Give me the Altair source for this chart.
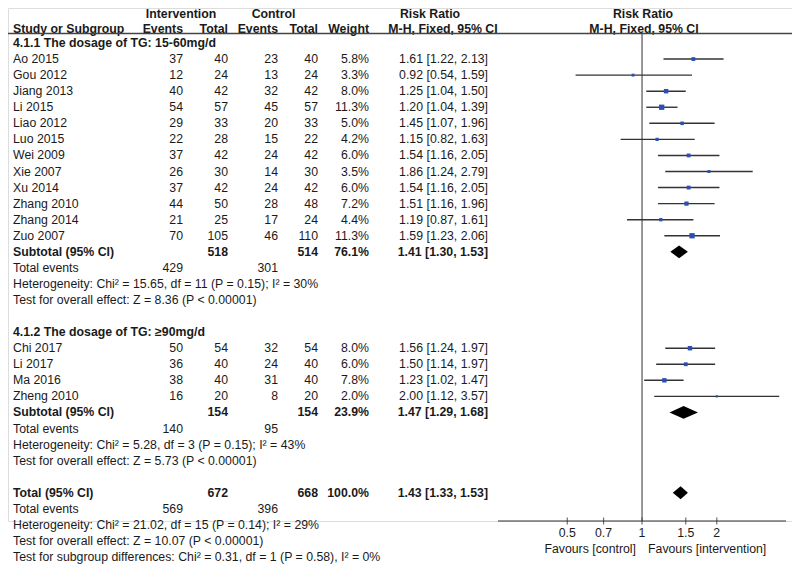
import altair as alt
import pandas as pd

FONT = "Liberation Sans"
TXT = "#1a1a1a"
FS = 12.3

# ---------------- data ----------------
g1_label = "4.1.1 The dosage of TG: 15-60mg/d"
g1_studies = ["Ao 2015", "Gou 2012", "Jiang 2013", "Li 2015", "Liao 2012", "Luo 2015",
              "Wei 2009", "Xie 2007", "Xu 2014", "Zhang 2010", "Zhang 2014", "Zuo 2007"]
g1_int_events = [37, 12, 40, 54, 29, 22, 37, 26, 37, 44, 21, 70]
g1_int_total = [40, 24, 42, 57, 33, 28, 42, 30, 42, 50, 25, 105]
g1_ctl_events = [23, 13, 32, 45, 20, 15, 24, 14, 24, 28, 17, 46]
g1_ctl_total = [40, 24, 42, 57, 33, 22, 42, 30, 42, 48, 24, 110]
g1_weight = [5.8, 3.3, 8.0, 11.3, 5.0, 4.2, 6.0, 3.5, 6.0, 7.2, 4.4, 11.3]
g1_rr = [1.61, 0.92, 1.25, 1.20, 1.45, 1.15, 1.54, 1.86, 1.54, 1.51, 1.19, 1.59]
g1_lo = [1.22, 0.54, 1.04, 1.04, 1.07, 0.82, 1.16, 1.24, 1.16, 1.16, 0.87, 1.23]
g1_hi = [2.13, 1.59, 1.50, 1.39, 1.96, 1.63, 2.05, 2.79, 2.05, 1.96, 1.61, 2.06]
g1_sub = {"it": 518, "ct": 514, "w": 76.1, "rr": 1.41, "lo": 1.30, "hi": 1.53, "ie": 429, "ce": 301}
g1_het = "Heterogeneity: Chi² = 15.65, df = 11 (P = 0.15); I² = 30%"
g1_test = "Test for overall effect: Z = 8.36 (P < 0.00001)"

g2_label = "4.1.2 The dosage of TG: ≥90mg/d"
g2_studies = ["Chi 2017", "Li 2017", "Ma 2016", "Zheng 2010"]
g2_int_events = [50, 36, 38, 16]
g2_int_total = [54, 40, 40, 20]
g2_ctl_events = [32, 24, 31, 8]
g2_ctl_total = [54, 40, 40, 20]
g2_weight = [8.0, 6.0, 7.8, 2.0]
g2_rr = [1.56, 1.50, 1.23, 2.00]
g2_lo = [1.24, 1.14, 1.02, 1.12]
g2_hi = [1.97, 1.97, 1.47, 3.57]
g2_sub = {"it": 154, "ct": 154, "w": 23.9, "rr": 1.47, "lo": 1.29, "hi": 1.68, "ie": 140, "ce": 95}
g2_het = "Heterogeneity: Chi² = 5.28, df = 3 (P = 0.15); I² = 43%"
g2_test = "Test for overall effect: Z = 5.73 (P < 0.00001)"

tot = {"it": 672, "ct": 668, "w": 100.0, "rr": 1.43, "lo": 1.33, "hi": 1.53, "ie": 569, "ce": 396}
tot_het = "Heterogeneity: Chi² = 21.02, df = 15 (P = 0.14); I² = 29%"
tot_test = "Test for overall effect: Z = 10.07 (P < 0.00001)"
sub_test = "Test for subgroup differences: Chi² = 0.31, df = 1 (P = 0.58), I² = 0%"

axis_ticks = [0.5, 0.7, 1, 1.5, 2]
axis_extent = [0.263, 3.8]
null_effect = [1]
fav_left = "Favours [control]"
fav_right = "Favours [intervention]"

# ---------------- build tables ----------------
text_rows = []
forest_rows = []
diamond_rows = []


def fmt_rr(r, l, h):
    return f"{r:.2f} [{l:.2f}, {h:.2f}]"


def add(row, label="", ie="", it="", ce="", ct="", w="", rr="", bold=False):
    text_rows.append(dict(row=row, label=label, ie=str(ie), it=str(it), ce=str(ce),
                          ct=str(ct), w=w, rr=rr, bold=bold))


r = 0
for (lab, st, ie, it, ce, ct, w, rr, lo, hi, sub, het, test) in [
    (g1_label, g1_studies, g1_int_events, g1_int_total, g1_ctl_events, g1_ctl_total,
     g1_weight, g1_rr, g1_lo, g1_hi, g1_sub, g1_het, g1_test),
    (g2_label, g2_studies, g2_int_events, g2_int_total, g2_ctl_events, g2_ctl_total,
     g2_weight, g2_rr, g2_lo, g2_hi, g2_sub, g2_het, g2_test),
]:
    add(r, label=lab, bold=True)
    r += 1
    for i in range(len(st)):
        add(r, st[i], ie[i], it[i], ce[i], ct[i], f"{w[i]:.1f}%", fmt_rr(rr[i], lo[i], hi[i]))
        forest_rows.append(dict(row=r, rr=rr[i], lo=lo[i], hi=hi[i], weight=w[i]))
        r += 1
    add(r, "Subtotal (95% CI)", "", sub["it"], "", sub["ct"], f"{sub['w']:.1f}%",
        fmt_rr(sub["rr"], sub["lo"], sub["hi"]), bold=True)
    diamond_rows.append((r, sub["lo"], sub["rr"], sub["hi"]))
    r += 1
    add(r, "Total events", sub["ie"], "", sub["ce"])
    r += 1
    add(r, het)
    r += 1
    add(r, test)
    r += 2

add(r, "Total (95% CI)", "", tot["it"], "", tot["ct"], f"{tot['w']:.1f}%",
    fmt_rr(tot["rr"], tot["lo"], tot["hi"]), bold=True)
diamond_rows.append((r, tot["lo"], tot["rr"], tot["hi"]))
r += 1
add(r, "Total events", tot["ie"], "", tot["ce"])
r += 1
add(r, tot_het)
r += 1
add(r, tot_test)
r += 1
add(r, sub_test)
last_row = r

text_df = pd.DataFrame(text_rows)
forest_df = pd.DataFrame(forest_rows)

dia = []
for k, (row, lo, est, hi) in enumerate(diamond_rows):
    dia.append(dict(d=k, x=lo, y=row, y2=row))
    dia.append(dict(d=k, x=est, y=row - 0.4, y2=row + 0.4))
    dia.append(dict(d=k, x=hi, y=row, y2=row))
dia_df = pd.DataFrame(dia)

# ---------------- layout constants (chart pixels) ----------------
ROW0_Y, ROWN_Y = 35, 549
AXIS_Y = 513
LABEL_Y = 524.5
FAV_Y = 541
UNDERLINE_Y = 25.5

yscale = alt.Scale(domain=[0, last_row], range=[ROW0_Y, ROWN_Y], nice=False, zero=False)
xscale = alt.Scale(type="log", domain=axis_extent, range=[490, 778], nice=False)


def Y(field="row"):
    return alt.Y(f"{field}:Q", scale=yscale, axis=None)


def X(field):
    return alt.X(f"{field}:Q", scale=xscale, axis=None)


layers = []

# text columns: (field, x, align)
cols = [("label", 5, "left"), ("ie", 175, "right"), ("it", 220, "right"),
        ("ce", 270, "right"), ("ct", 310, "right"), ("w", 361, "right"),
        ("rr", 480, "right")]
base_text = alt.Chart(text_df)
for field, xpos, align in cols:
    for b in (False, True):
        layers.append(
            base_text.transform_filter(alt.datum.bold == b)
            .mark_text(align=align, baseline="middle", font=FONT, fontSize=FS,
                       fontWeight="bold" if b else "normal", color=TXT)
            .encode(x=alt.value(xpos), y=Y(), text=f"{field}:N")
        )

# column headers
hdr = pd.DataFrame({
    "t": ["Intervention", "Control", "Risk Ratio", "Risk Ratio",
          "Study or Subgroup", "Events", "Total", "Events", "Total", "Weight",
          "M-H, Fixed, 95% CI", "M-H, Fixed, 95% CI"],
    "k": list(range(12)),
})
hdr_pos = [(173, 0, "center"), (265.5, 0, "center"), (422, 0, "center"), (635, 0, "center"),
           (5, 14.5, "left"), (175, 14.5, "right"), (220, 14.5, "right"), (270, 14.5, "right"),
           (310, 14.5, "right"), (361, 14.5, "right"), (435, 14.5, "center"), (636, 14.5, "center")]
for k, (hx, hy, ha) in enumerate(hdr_pos):
    layers.append(
        alt.Chart(hdr).transform_filter(alt.datum.k == k)
        .mark_text(align=ha, baseline="top", font=FONT, fontSize=FS, fontWeight="bold", color=TXT)
        .encode(x=alt.value(hx), y=alt.value(hy), text="t:N")
    )

# header underline
layers.append(
    alt.Chart(pd.DataFrame({"k": [0]})).mark_rule(color="#444", strokeWidth=1.3)
    .encode(x=alt.value(0), x2=alt.value(784), y=alt.value(UNDERLINE_Y))
)

# null-effect vertical line
layers.append(
    alt.Chart(pd.DataFrame({"v": null_effect})).mark_rule(color="#444", strokeWidth=1.1)
    .encode(x=X("v"), y=alt.value(UNDERLINE_Y), y2=alt.value(AXIS_Y))
)

# axis line
layers.append(
    alt.Chart(pd.DataFrame({"a": [axis_extent[0]], "b": [axis_extent[1]]}))
    .mark_rule(color="#333", strokeWidth=1.2)
    .encode(x=X("a"), x2="b:Q", y=alt.value(AXIS_Y))
)

# ticks crossing the axis line
tick_df = pd.DataFrame({"v": axis_ticks, "lab": [f"{t:g}" for t in axis_ticks]})
layers.append(
    alt.Chart(tick_df).mark_tick(color="#333", size=7, thickness=1.2)
    .encode(x=X("v"), y=alt.value(AXIS_Y))
)
layers.append(
    alt.Chart(tick_df).mark_text(baseline="middle", align="center", font=FONT, fontSize=FS, color=TXT)
    .encode(x=X("v"), y=alt.value(LABEL_Y), text="lab:N")
)

# CI lines
layers.append(
    alt.Chart(forest_df).mark_rule(color="#333", strokeWidth=1.4)
    .encode(x=X("lo"), x2="hi:Q", y=Y())
)

# study squares
layers.append(
    alt.Chart(forest_df).mark_square(color="#2b4fb3", opacity=1)
    .encode(
        x=X("rr"),
        y=Y(),
        size=alt.Size("weight:Q", scale=alt.Scale(domain=[0, 11.3], range=[0, 28], zero=True), legend=None),
    )
)

# diamonds
layers.append(
    alt.Chart(dia_df).mark_area(color="black", orient="vertical", opacity=1)
    .encode(x=X("x"), y=Y("y"), y2="y2:Q", detail="d:N")
)

# favours labels
fav = pd.DataFrame({"v": null_effect, "l": [fav_left], "r": [fav_right]})
layers.append(
    alt.Chart(fav).mark_text(align="right", baseline="middle", font=FONT, fontSize=FS, color=TXT, dx=-6)
    .encode(x=X("v"), y=alt.value(FAV_Y), text="l:N")
)
layers.append(
    alt.Chart(fav).mark_text(align="left", baseline="middle", font=FONT, fontSize=FS, color=TXT, dx=6)
    .encode(x=X("v"), y=alt.value(FAV_Y), text="r:N")
)

chart = (
    alt.layer(*layers)
    .properties(width=784, height=AXIS_Y,
                autosize=alt.AutoSizeParams(type="none"),
                padding={"left": 0, "top": 0, "right": 0, "bottom": 556 - AXIS_Y})
    .configure_view(stroke=None)
    .configure(background="white")
)

chart.save("out.html", embed_options={"renderer": "svg", "actions": False})
